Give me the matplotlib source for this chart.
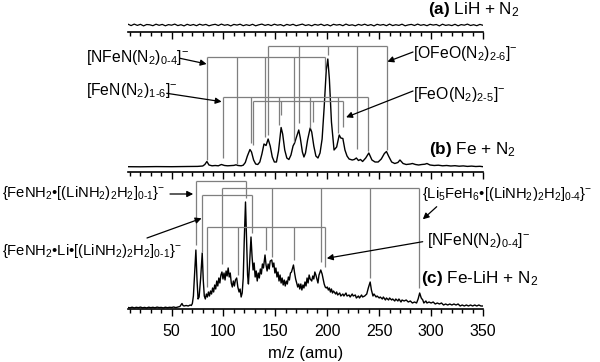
import numpy as np
import matplotlib
matplotlib.use("Agg")
import matplotlib.pyplot as plt

plt.rcParams['font.family'] = 'Liberation Sans'
plt.rcParams['mathtext.fontset'] = 'custom'
plt.rcParams['mathtext.rm'] = 'Liberation Sans'
plt.rcParams['mathtext.it'] = 'Liberation Sans'
plt.rcParams['mathtext.bf'] = 'Liberation Sans:bold'
plt.rcParams['mathtext.default'] = 'regular'

# (a) LiH + N2 : flat noisy trace, one value every 3 amu from 8 to 350
a_mz = np.arange(8, 351, 3)
a_int = [0.8, -0.6, 0.9, -0.4, 0.7, -0.9, 0.5, 0.2, -0.7, 0.8, -0.3, 0.6, -0.8, 0.4, -0.2, 0.9, -0.6, 0.3, -0.9, 0.7,
         -0.4, 0.5, -0.7, 0.8, -0.2, 0.6, -0.8, 0.1, 0.7, -0.5, 0.9, -0.3, 0.4, -0.9, 0.6, -0.1, 0.8, -0.7, 0.3, -0.5,
         0.7, -0.8, 0.2, 0.9, -0.4, 0.5, -0.6, 0.8, -0.2, 0.4, -0.9, 0.6, -0.3, 0.7, -0.7, 0.1, 0.9, -0.5, 0.3, -0.8,
         0.6, -0.2, 0.8, -0.6, 0.4, -0.9, 0.7, -0.1, 0.5, -0.7, 0.9, -0.4, 0.2, -0.8, 0.6, -0.3, 0.8, -0.5, 0.4, -0.9,
         0.7, -0.2, 0.5, -0.7, 0.9, -0.6, 0.3, -0.4, 0.8, -0.8, 0.1, 0.6, -0.5, 0.9, -0.3, 0.4, -0.7, 0.7, -0.1, 0.5,
         -0.9, 0.8, -0.4, 0.2, -0.6, 0.7, -0.8, 0.4, -0.2, 0.9, -0.5, 0.3, -0.7, 0.6, -0.3]

# (b) Fe + N2
b_mz = [8, 20, 35, 50, 65, 75, 80, 82, 84, 86, 89, 92, 95, 98, 101, 104, 107, 110, 112, 114, 117, 119,
        121, 123, 125.5, 127, 129, 131, 133, 135, 137, 139, 141, 143, 145, 147, 149, 151, 153, 155.5, 157,
        159, 161, 163, 165, 167, 168.5, 170, 172.5, 174, 176, 177.5, 179, 181, 183.5, 185, 187, 189, 191,
        193, 195, 197, 199, 200.5, 202, 204, 206.5, 209, 211.5, 213, 215, 217, 219, 221, 224, 226, 228,
        230, 232, 234, 237, 240, 243, 246, 249, 252, 255, 257, 259, 262, 265, 268, 270, 273, 276, 280,
        282, 285, 288, 291, 294, 296, 299, 303, 307, 311, 315, 319, 323, 327, 331, 335, 339, 343, 347, 350]
b_int = [0.3, 0.2, 0.4, 0.3, 0.5, 0.6, 1, 2.5, 5.5, 2, 1.2, 1.5, 1.2, 2.5, 1.5, 1.2, 1.4, 1.6, 2.2, 1.5, 1.2, 1.8,
         4.5, 11, 17.5, 15, 7, 3, 2.5, 5, 13, 23, 21.5, 28, 21, 10, 5, 5, 16, 39.5, 33,
         17, 9, 7.5, 12, 21, 24, 29, 37, 29, 15, 10, 14, 27, 39, 35, 21, 11, 9,
         14, 28, 60, 97, 108, 88, 45, 17, 20, 32, 29, 28.5, 17, 11, 8, 7, 7.5, 9,
         6.5, 7.5, 5.5, 9, 14, 7, 5, 5, 8, 13.5, 15.5, 11, 5, 3.5, 4.5, 7, 3.5, 2.5, 3,
         3.5, 2.5, 2, 2.5, 2.8, 3.5, 2, 1.5, 1.8, 1.2, 1.5, 1, 1.3, 0.8, 1.1, 0.6, 0.9, 0.5, 0.7, 0.3]

# (c) Fe-LiH + N2
c_mz = [8, 10, 12, 14, 16, 18, 20, 22, 24, 26, 28, 30, 32, 34, 36, 38, 40, 42, 44, 46, 48, 50, 52, 54, 56, 58,
        60, 61, 62, 64, 66, 68, 69, 70, 71, 72, 73.4, 74.5, 75.5, 76.5, 78, 79.5, 80.5, 81.5, 82.5, 83.5, 84.5,
        85.5, 86.5, 87.5, 88.5, 89.5, 90.5, 91.5, 92.5, 93.5, 94.5, 95.5, 96.5, 97.5, 98.5, 99.5, 100.5, 101.5,
        102.5, 103.5, 104.5, 105.5, 106.5, 107.5, 108.5, 109.5, 110.5, 111.5, 112.7, 113.8, 115, 116, 117, 118,
        119, 120, 121.2, 122.2, 123.2, 124, 125, 126.5, 127.5, 128.5, 129.5, 130.5, 131.5, 132.5, 133.5, 134.5,
        135.5, 136.5, 137.5, 138.5, 140, 141, 142, 143, 144, 145, 146.5, 147.5, 148.5, 149.5, 150.5, 151.5, 152.5,
        153.5, 154.5, 155.5, 156.5, 157.5, 158.5, 159.5, 160.5, 161.5, 162.5, 163.5, 164.5, 165.5, 167.4, 168.5,
        169.5, 170.5, 171.5, 172.5, 173.5, 174.5, 175.5, 176.5, 177.5, 178.5, 179.5, 180.5, 181.5, 182.5, 183.5,
        185, 186, 187, 188, 189, 190, 191, 192, 193.7, 195, 196, 197, 198, 199, 200, 201, 202, 203, 204, 205, 206,
        208, 209, 210, 212, 213, 215, 216, 218, 219, 221, 222, 224, 225, 227, 228, 230, 231, 233, 234, 236, 238,
        239.5, 241.3, 242.5, 244, 245, 247, 248, 250, 251, 253, 254, 256, 257, 259, 260, 262, 263, 265, 266, 268,
        269, 271, 272, 274, 276, 278, 280, 282, 284, 286, 287.5, 289, 290.5, 292, 293, 295, 296, 298, 300, 302,
        304, 306, 308, 310, 312, 314, 316, 318, 320, 322, 324, 326, 328, 330, 332, 334, 336, 338, 340, 342, 344,
        346, 348, 350]
c_int = [0.5, 0.2, 0.8, 0.1, 0.7, 0.3, 0.9, 0.2, 0.6, 0.1, 0.8, 0.3, 0.7, 0.2, 0.9, 0.4, 0.6, 0.1, 0.8, 0.3, 0.7, 0.5, 1.0, 0.4, 0.9, 1.5,
         4.5, 2.5, 2.0, 2.5, 2.0, 3.0, 2.5, 4.5, 12, 32, 58, 28, 9, 11, 30, 55, 28, 12, 9, 14, 11,
         16, 12, 17, 14, 20, 16, 23, 19, 27, 22, 30, 25, 33, 36, 29, 35, 28,
         37, 32, 40, 31, 35, 25, 21, 27, 22, 28, 30, 21, 16, 19, 11, 15,
         30, 68, 106, 68, 33, 24, 42, 71, 52, 38, 45, 31, 37, 27, 35, 30,
         39, 34, 44, 40, 53, 43, 37, 44, 39, 47, 48, 41, 45, 35, 40, 31, 36,
         27, 33, 25, 30, 23, 28, 22, 27, 24, 31, 28, 35, 36, 43, 35,
         29, 25, 21, 24, 19, 24, 18, 23, 20, 26, 22, 30, 25, 33, 29,
         27, 32, 29, 36, 33, 29, 25, 33, 38, 34, 29, 24, 21, 20, 21, 18, 20, 16, 19, 15, 17,
         14, 16, 13, 15, 12, 14, 12, 15, 12, 13, 11, 14, 12, 13, 10, 12, 10, 13, 11, 12, 14,
         20, 26, 18, 12, 14, 11, 12, 10, 11, 9, 11, 8, 10, 8, 10, 8, 9, 7, 9, 7,
         9, 6, 8, 7, 8, 6, 7, 5, 6, 5, 9, 15, 10, 8, 5, 7, 5, 6, 5, 6,
         4, 5, 4, 5, 3, 4, 3, 4, 3, 4, 3, 4, 2, 3, 2, 3, 2, 3, 2, 3, 2,
         3, 2, 2]

# assignment combs: (m/z of each tooth, where each tooth stops), height of the bar
b_nfen_mz, b_nfen_low, b_nfen_top = [83.75, 112.7, 140, 168.2, 197.8], [7, 3, 30, 25, 97], 109.7
b_ofeo_mz, b_ofeo_low, b_ofeo_top = [143.2, 172.5, 200.5, 228.4, 257.6], [32, 44, 112, 18, 17], 121.3
b_fen_mz, b_fen_low, b_fen_top = [99.2, 126.2, 153.8, 183.4, 210.6, 239.6], [9, 24, 42, 39, 34, 16], 70.3
b_feo_mz, b_feo_low, b_feo_top = [128.7, 155.4, 186.5, 214.9], [22, 52, 45, 40], 66

c_fenh2_mz, c_fenh2_low, c_fenh2_top = [73.4, 121.6], [63, 109.7], 127.3
c_fenh2li_mz, c_fenh2li_low, c_fenh2li_top = [79.5, 127.1], [56.3, 74.7], 113
c_li5_mz, c_li5_low, c_li5_top = [98.2, 146.4, 193.5, 241.2, 288.8], [43.7, 51.3, 46, 29.7, 19.7], 119.7
c_nfen_mz, c_nfen_low, c_nfen_top = [83.75, 113.6, 140.6, 167.9, 197.8], [21.3, 33, 58, 48, 41.3], 80.7

W, H = 600, 362


def fxy(px, py):
    # image pixels (from top-left) -> figure fraction
    return px / W, 1 - py / H


fig = plt.figure(figsize=(6, 3.62), dpi=100)
left, width = 128 / W, (483 - 128) / W
ax_a = fig.add_axes([left, 1 - 31.7 / H, width, 13.7 / H])
ax_b = fig.add_axes([left, 1 - 171.5 / H, width, 131.5 / H])
ax_c = fig.add_axes([left, 1 - 309 / H, width, 131 / H])

for ax in (ax_a, ax_b, ax_c):
    ax.set_xlim(8, 350)
    for s in ('top', 'left', 'right'):
        ax.spines[s].set_visible(False)
    ax.spines['bottom'].set_linewidth(1.2)
    ax.set_yticks([])
    ax.set_xticks(np.arange(50, 351, 50))
    ax.set_xticks(np.arange(10, 351, 10), minor=True)
    ax.tick_params(axis='x', which='major', direction='out', length=5, width=1, labelsize=11.5, pad=6)
    ax.tick_params(axis='x', which='minor', direction='out', length=2.8, width=1)
    ax.patch.set_visible(False)
ax_a.tick_params(labelbottom=False)
ax_b.tick_params(labelbottom=False)

ax_a.set_ylim(-6.7, 7)
ax_b.set_ylim(-4.5, 127)
ax_c.set_ylim(-1, 130)

ax_a.plot(a_mz, a_int, color='black', lw=0.9)
ax_b.plot(b_mz, b_int, color='black', lw=1)
ax_c.plot(c_mz, c_int, color='black', lw=1)

grey = '#7f7f7f'


def comb(ax, mz, low, top):
    ax.vlines(mz, low, top, color=grey, lw=0.9, clip_on=False)
    ax.hlines(top, min(mz), max(mz), color=grey, lw=0.9, clip_on=False)


comb(ax_b, b_nfen_mz, b_nfen_low, b_nfen_top)
comb(ax_b, b_ofeo_mz, b_ofeo_low, b_ofeo_top)
comb(ax_b, b_fen_mz, b_fen_low, b_fen_top)
comb(ax_b, b_feo_mz, b_feo_low, b_feo_top)
comb(ax_c, c_fenh2_mz, c_fenh2_low, c_fenh2_top)
comb(ax_c, c_fenh2li_mz, c_fenh2li_low, c_fenh2li_top)
comb(ax_c, c_li5_mz, c_li5_low, c_li5_top)
comb(ax_c, c_nfen_mz, c_nfen_low, c_nfen_top)


def arrow(ax, head, tail_px):
    ax.annotate('', xy=head, xycoords='data', xytext=fxy(*tail_px), textcoords='figure fraction',
                arrowprops=dict(arrowstyle='-|>', color='black', lw=0.9, shrinkA=0, shrinkB=0,
                                mutation_scale=9), annotation_clip=False)


fs = 11.3
fl = 10.6
fp = 12.3
# labels, panel b
fig.text(*fxy(86, 61.7), r'$[NFeN(N_2)_{0\text{-}4}]^{-}$', fontsize=fs, ha='left', va='baseline')
fig.text(*fxy(86, 95), r'$[FeN(N_2)_{1\text{-}6}]^{-}$', fontsize=fs, ha='left', va='baseline')
fig.text(*fxy(413, 58.3), r'$[OFeO(N_2)_{2\text{-}6}]^{-}$', fontsize=fs, ha='left', va='baseline')
fig.text(*fxy(413, 99.3), r'$[FeO(N_2)_{2\text{-}5}]^{-}$', fontsize=fs, ha='left', va='baseline')
arrow(ax_b, (83.75, 103), (180, 58.3))
arrow(ax_b, (98.2, 65.3), (166.7, 93.3))
arrow(ax_b, (257.9, 105.3), (413, 52))
arrow(ax_b, (218.1, 49.7), (413, 91))

fig.text(*fxy(428, 14.3), r'$\mathbf{(a)}$ LiH + N$_2$', fontsize=fp, ha='left', va='baseline')
fig.text(*fxy(429, 154), r'$\mathbf{(b)}$ Fe + N$_2$', fontsize=fp, ha='left', va='baseline')
fig.text(*fxy(421, 283.3), r'$\mathbf{(c)}$ Fe-LiH + N$_2$', fontsize=fp, ha='left', va='baseline')

# labels, panel c
fig.text(*fxy(2, 197.3), r'$\{FeNH_2$•$[(LiNH_2)_2H_2]_{0\text{-}1}\}^{-}$', fontsize=fl, ha='left', va='baseline')
fig.text(*fxy(2, 255), r'$\{FeNH_2$•Li•$[(LiNH_2)_2H_2]_{0\text{-}1}\}^{-}$', fontsize=fl, ha='left', va='baseline')
fig.text(*fxy(422, 198.3), r'$\{Li_5FeH_6$•$[(LiNH_2)_2H_2]_{0\text{-}4}\}^{-}$', fontsize=fl, ha='left', va='baseline')
fig.text(*fxy(427, 245), r'$[NFeN(N_2)_{0\text{-}4}]^{-}$', fontsize=fs, ha='left', va='baseline')
arrow(ax_c, (70.8, 114), (170, 194))
arrow(ax_c, (78.9, 89.7), (147, 238))
arrow(ax_c, (292, 88.7), (436.7, 206.7))
arrow(ax_c, (199.5, 49.7), (422.7, 241.7))

ax_c.set_xlabel('m/z (amu)', fontsize=12, labelpad=5)

fig.savefig('out.png', dpi=100)
